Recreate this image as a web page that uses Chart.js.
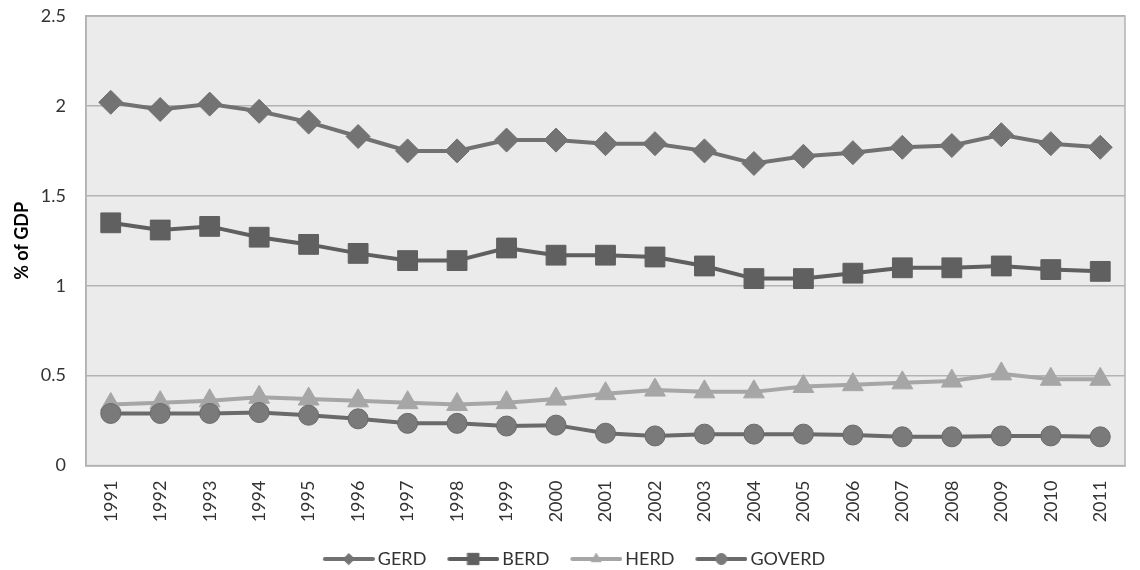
<!DOCTYPE html>
<html>
<head>
<meta charset="utf-8">
<script src="https://cdn.jsdelivr.net/npm/chart.js@4/dist/chart.umd.min.js"></script>
<style>
  html, body { margin: 0; padding: 0; background: #fff; overflow: hidden; }
  canvas { display: block; }
</style>
</head>
<body>
<canvas id="rdChart" width="1140" height="570"></canvas>
<script>
const years = ['1991','1992','1993','1994','1995','1996','1997','1998','1999','2000','2001','2002','2003','2004','2005','2006','2007','2008','2009','2010','2011'];
const gerd   = [2.02, 1.98, 2.01, 1.97, 1.91, 1.83, 1.75, 1.75, 1.81, 1.81, 1.79, 1.79, 1.75, 1.68, 1.72, 1.74, 1.77, 1.78, 1.84, 1.79, 1.77];
const berd   = [1.35, 1.31, 1.33, 1.27, 1.23, 1.18, 1.14, 1.14, 1.21, 1.17, 1.17, 1.16, 1.11, 1.04, 1.04, 1.07, 1.10, 1.10, 1.11, 1.09, 1.08];
const herd   = [0.34, 0.35, 0.36, 0.38, 0.37, 0.36, 0.35, 0.34, 0.35, 0.37, 0.40, 0.42, 0.41, 0.41, 0.44, 0.45, 0.46, 0.47, 0.51, 0.48, 0.48];
const goverd = [0.29, 0.29, 0.29, 0.295, 0.28, 0.26, 0.235, 0.235, 0.22, 0.225, 0.18, 0.165, 0.175, 0.175, 0.175, 0.17, 0.16, 0.16, 0.165, 0.165, 0.16];
const yTicks = [0, 0.5, 1, 1.5, 2, 2.5];

const fontFamily = 'Lato, "Open Sans", sans-serif';
const textColor = '#333333';
const gridColor = '#b3b3b3';

// legend swatch: Excel style line with a small marker in the middle
function legendSwatch(color, markerColor, style) {
  const c = document.createElement('canvas');
  c.width = 69;
  c.height = 14;
  const ctx = c.getContext('2d');
  ctx.strokeStyle = color;
  ctx.lineWidth = 4;
  ctx.lineCap = 'round';
  ctx.beginPath();
  ctx.moveTo(19, 7);
  ctx.lineTo(67, 7);
  ctx.stroke();
  ctx.fillStyle = markerColor;
  ctx.strokeStyle = markerColor;
  ctx.lineWidth = 1;
  Chart.helpers.drawPoint(ctx, { pointStyle: style, radius: style === 'rect' ? 8 : 5.5, borderWidth: 1 }, 43, 7);
  return c;
}

const bgPlugin = {
  id: 'plotBg',
  beforeDraw(chart) {
    const a = chart.chartArea;
    const ctx = chart.ctx;
    ctx.save();
    ctx.fillStyle = '#ebebeb';
    ctx.fillRect(a.left, a.top, a.right - a.left, a.bottom - a.top);
    ctx.restore();
  },
  beforeDatasetsDraw(chart) {
    const a = chart.chartArea;
    const ctx = chart.ctx;
    ctx.save();
    ctx.strokeStyle = gridColor;
    ctx.lineWidth = 1.5;
    ctx.strokeRect(a.left, a.top, a.right - a.left, a.bottom - a.top);
    ctx.restore();
  }
};

function series(label, data, color, markerColor, style, radius, order) {
  return {
    label: label,
    data: data,
    borderColor: color,
    backgroundColor: markerColor,
    borderWidth: 4,
    pointStyle: style,
    pointRadius: radius,
    pointBackgroundColor: markerColor,
    pointBorderColor: color,
    pointBorderWidth: 1,
    tension: 0,
    order: order,
    legendImg: legendSwatch(color, markerColor, style)
  };
}

const ctx = document.getElementById('rdChart').getContext('2d');
new Chart(ctx, {
  type: 'line',
  data: {
    labels: years,
    datasets: [
      series('GERD', gerd, '#717171', '#737373', 'rectRot', 12, 3),
      series('BERD', berd, '#5f5f5f', '#606060', 'rect', 14, 2),
      series('HERD', herd, '#a6a6a6', '#a6a6a6', 'triangle', 12, 1),
      series('GOVERD', goverd, '#6a6a6a', '#7a7a7a', 'circle', 10, 0)
    ]
  },
  options: {
    responsive: false,
    animation: false,
    layout: { padding: { top: 16, right: 3, left: 0, bottom: -8 } },
    plugins: {
      tooltip: { enabled: false },
      legend: {
        position: 'bottom',
        labels: {
          usePointStyle: true,
          pointStyleWidth: 57,
          padding: 10,
          color: textColor,
          font: { family: fontFamily, size: 18 },
          sort: (a, b) => a.datasetIndex - b.datasetIndex,
          generateLabels(chart) {
            return chart.data.datasets.map((ds, i) => ({
              text: ds.label,
              datasetIndex: i,
              pointStyle: ds.legendImg,
              fillStyle: ds.borderColor,
              strokeStyle: ds.borderColor,
              lineWidth: 0,
              fontColor: textColor,
              hidden: false
            }));
          }
        }
      }
    },
    scales: {
      x: {
        offset: true,
        // invisible tick marks give the label gap without adding side padding
        grid: { display: false, drawTicks: true, tickLength: 15 },
        border: { display: true, color: gridColor, width: 1.5 },
        ticks: {
          minRotation: 90,
          maxRotation: 90,
          padding: 0,
          color: textColor,
          font: { family: fontFamily, size: 18 }
        },
        afterFit(scale) {
          scale.height = 74.4;
          scale.paddingLeft = 0;
          scale.paddingRight = 0;
        }
      },
      y: {
        min: 0,
        max: 2.5,
        grid: { color: gridColor, lineWidth: 1.5, drawTicks: false },
        border: { display: true, color: gridColor, width: 1.5 },
        ticks: {
          padding: 20,
          color: textColor,
          font: { family: fontFamily, size: 18 },
          callback: v => String(v)
        },
        afterBuildTicks(scale) { scale.ticks = yTicks.map(v => ({ value: v })); },
        afterFit(scale) {
          scale.width = 86;
          // keep the tick padding from pushing the plot top down
          scale.paddingTop = 11;
          scale.paddingBottom = 11;
        },
        title: {
          display: true,
          text: '% of GDP',
          color: '#000',
          padding: { top: 11, bottom: 0 },
          font: { family: fontFamily, size: 18, weight: 'bold' }
        }
      }
    }
  },
  plugins: [bgPlugin]
});
</script>
</body>
</html>
